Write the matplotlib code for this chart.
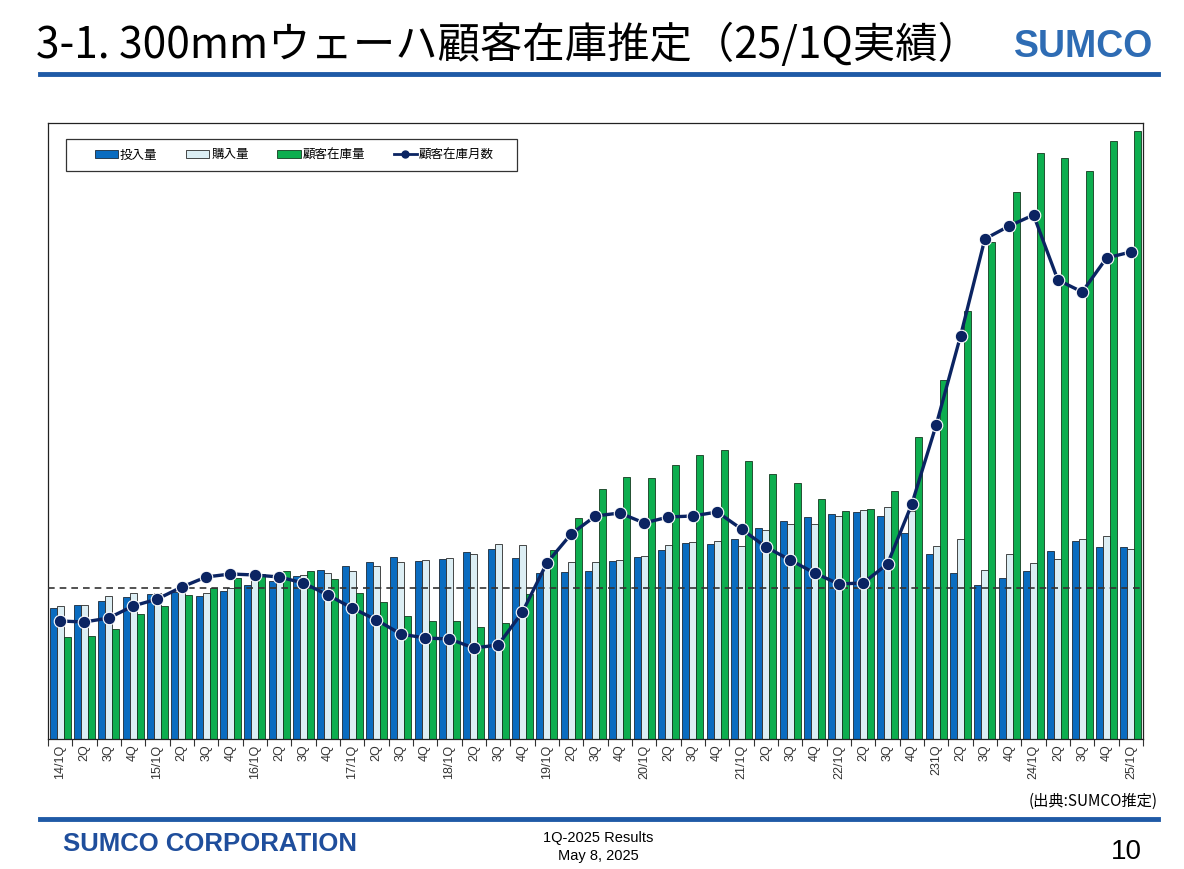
import matplotlib.pyplot as plt
import numpy as np
from matplotlib.patches import Patch, Rectangle
from matplotlib.lines import Line2D

JP = ['Noto Sans CJK JP', 'DejaVu Sans']
plt.rcParams['font.family'] = ['Liberation Sans', 'Noto Sans CJK JP', 'DejaVu Sans']

# ------------------------------------------------------------
# data (relative units, no y scale shown)
quarters = ['14/1Q', '2Q', '3Q', '4Q', '15/1Q', '2Q', '3Q', '4Q',
            '16/1Q', '2Q', '3Q', '4Q', '17/1Q', '2Q', '3Q', '4Q',
            '18/1Q', '2Q', '3Q', '4Q', '19/1Q', '2Q', '3Q', '4Q',
            '20/1Q', '2Q', '3Q', '4Q', '21/1Q', '2Q', '3Q', '4Q',
            '22/1Q', '2Q', '3Q', '4Q', '231Q', '2Q', '3Q', '4Q',
            '24/1Q', '2Q', '3Q', '4Q', '25/1Q']

wafer_in = [131, 134, 138, 142, 145, 147, 143, 148, 154, 158, 163, 169,
            173, 177, 182, 178, 180, 187, 190, 181, 166, 167, 168, 178,
            182, 189, 196, 195, 200, 211, 218, 222, 225, 227, 223, 206,
            185, 166, 154, 161, 168, 188, 198, 192, 192]

purchased = [133, 134, 143, 146, 146, 150, 146, 151, 159, 162, 164, 166,
             168, 173, 177, 179, 181, 185, 195, 194, 176, 177, 177, 179,
             183, 194, 197, 198, 193, 209, 215, 215, 223, 229, 232, 228,
             193, 200, 169, 185, 176, 180, 200, 203, 190]

inventory = [102, 103, 110, 125, 133, 144, 151, 161, 165, 168, 168, 160,
             146, 137, 123, 118, 118, 112, 116, 145, 189, 221, 250, 262,
             261, 274, 284, 289, 278, 265, 256, 240, 228, 230, 248, 302,
             359, 428, 497, 547, 586, 581, 568, 598, 608]

inv_months = [118, 117, 121, 133, 140, 152, 162, 165, 164, 162, 156, 144,
              131, 119, 105, 101, 100, 91, 94, 127, 176, 205, 223, 226,
              216, 222, 223, 227, 210, 192, 179, 166, 155, 156, 175, 235,
              314, 403, 500, 513, 524, 459, 447, 481, 487]

ref_level = 151

# ------------------------------------------------------------
c_blue = '#0A6CC0'
c_light = '#DCEEF4'
c_green = '#0DAE4F'
c_line = '#0B2462'
c_rule = '#1F5AA6'

fig = plt.figure(figsize=(11.84, 8.69), dpi=100)
ax = fig.add_axes([0.0405, 0.1496, 0.9249, 0.7089])

x = np.arange(len(quarters))
w = 0.29
ax.bar(x - w, wafer_in, w, color=c_blue, edgecolor='#1a2a3a', lw=0.6)
ax.bar(x, purchased, w, color=c_light, edgecolor='#2a2a2a', lw=0.6)
ax.bar(x + w, inventory, w, color=c_green, edgecolor='#143a20', lw=0.6)
ax.axhline(ref_level, color='#333333', lw=1.2, ls=(0, (4, 3)), zorder=3)
ax.plot(x, inv_months, color=c_line, lw=2.4, marker='o', ms=9,
        mfc=c_line, mec='white', mew=0.8, zorder=5)

ax.set_xlim(-0.5, len(quarters) - 0.5)
ax.set_ylim(0, 616)
ax.set_yticks([])
ax.set_xticks(x)
ax.set_xticklabels(quarters, rotation=90, fontsize=9, color='#333333',
                   family=['Liberation Sans Narrow', 'Liberation Sans'])
ax.tick_params(axis='x', which='major', length=0, pad=4)
ax.set_xticks(np.arange(-0.5, len(quarters), 1), minor=True)
ax.tick_params(axis='x', which='minor', length=5, width=0.8, color='#333333')
for s in ax.spines.values():
    s.set_linewidth(0.9)
    s.set_color('#222222')

# legend: frame drawn by hand so the padding matches the slide
ax.add_patch(Rectangle((0.0165, 0.922), 0.412, 0.052, transform=ax.transAxes,
                       fill=False, edgecolor='#333333', lw=0.9, zorder=6))
handles = [Patch(facecolor=c_blue, edgecolor='#1a2a3a', lw=0.6),
           Patch(facecolor=c_light, edgecolor='#2a2a2a', lw=0.6),
           Patch(facecolor=c_green, edgecolor='#143a20', lw=0.6),
           Line2D([], [], color=c_line, lw=2, marker='o', ms=5, mec=c_line)]
ax.legend(handles, ['投入量', '購入量', '顧客在庫量', '顧客在庫月数'],
          ncol=4, loc='center left', bbox_to_anchor=(0.0429, 0.948),
          prop={'family': JP, 'size': 9}, frameon=False, borderpad=0,
          borderaxespad=0, handlelength=1.85, handleheight=0.55,
          handletextpad=0.15, columnspacing=2.3)

# ------------------------------------------------------------
# slide header / footer
fig.text(0.030, 0.947, '3-1. 300mmウェーハ顧客在庫推定（25/1Q実績）',
         family=JP, fontsize=30.5, va='center', ha='left', color='black')
fig.text(0.974, 0.946, 'SUMCO', family='Liberation Sans', weight='bold',
         fontsize=27, color='#2E6CB4', ha='right', va='center')
fig.add_artist(Line2D([0.034, 0.978], [0.915, 0.915], color=c_rule, lw=3.5))

fig.text(0.978, 0.078, '(出典:SUMCO推定)', family=JP, fontsize=11,
         ha='right', va='center')
fig.add_artist(Line2D([0.034, 0.978], [0.058, 0.058], color=c_rule, lw=3.5))
fig.text(0.053, 0.029, 'SUMCO CORPORATION', family='Liberation Sans',
         weight='bold', fontsize=18.5, color='#1F4E9C', ha='left', va='center')
fig.text(0.505, 0.0255, '1Q-2025 Results\nMay 8, 2025', family='Liberation Sans',
         fontsize=10.5, ha='center', va='center', linespacing=1.4)
fig.text(0.964, 0.020, '10', family='Liberation Sans', fontsize=20,
         ha='right', va='center')

fig.savefig('out.png', dpi=100)
